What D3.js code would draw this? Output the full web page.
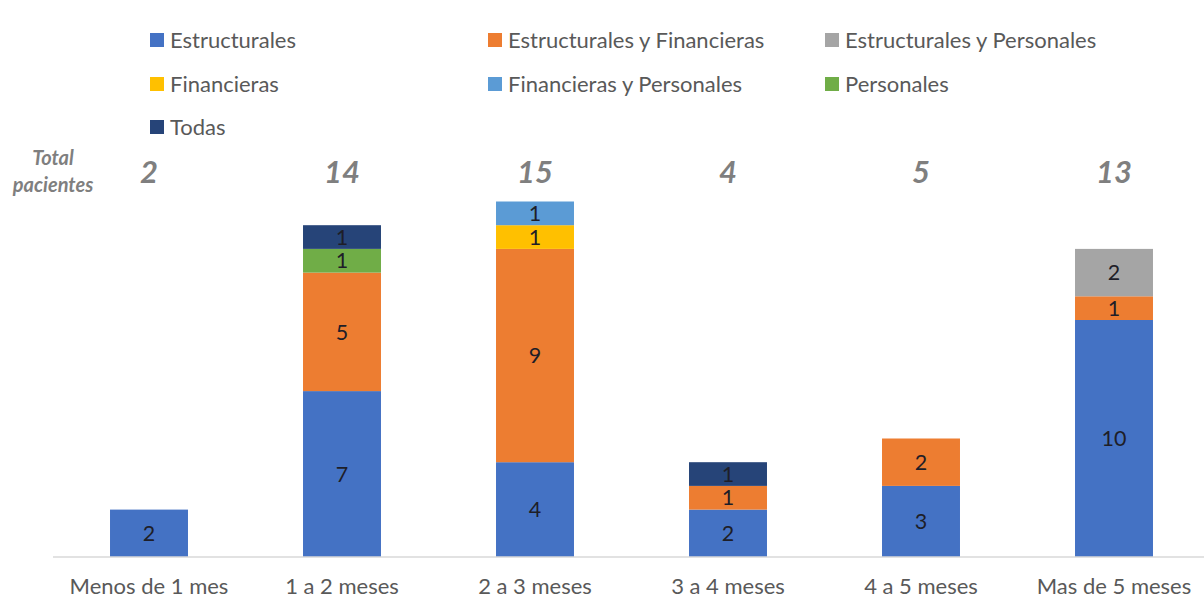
<!DOCTYPE html>
<html>
<head>
<meta charset="utf-8">
<script src="https://cdn.jsdelivr.net/npm/d3@7/dist/d3.min.js"></script>
<style>
  html, body { margin: 0; padding: 0; background: #fff; }
  svg { display: block; }
  text { font-family: Lato, "Open Sans", sans-serif; }
</style>
</head>
<body>
<svg id="chart" width="1204" height="606"></svg>
<script>
// Time-range categories along the x axis
const categories = ["Menos de 1 mes", "1 a 2 meses", "2 a 3 meses", "3 a 4 meses", "4 a 5 meses", "Mas de 5 meses"];

// Series names in stacking order (bottom to top)
const seriesNames = ["Estructurales", "Estructurales y Financieras", "Estructurales y Personales",
                     "Financieras", "Financieras y Personales", "Personales", "Todas"];
const seriesColors = ["#4472C4", "#ED7D31", "#A5A5A5", "#FFC000", "#5B9BD5", "#70AD47", "#264478"];

// Patient counts per series, one value per category
const estructurales              = [2, 7, 4, 2, 3, 10];
const estructuralesFinancieras   = [0, 5, 9, 1, 2, 1];
const estructuralesPersonales    = [0, 0, 0, 0, 0, 2];
const financieras                = [0, 0, 1, 0, 0, 0];
const financierasPersonales      = [0, 0, 1, 0, 0, 0];
const personales                 = [0, 1, 0, 0, 0, 0];
const todas                      = [0, 1, 0, 1, 0, 0];

const seriesValues = [estructurales, estructuralesFinancieras, estructuralesPersonales,
                      financieras, financierasPersonales, personales, todas];

// Row table for d3.stack
const rows = categories.map((c, i) => {
  const r = { category: c };
  seriesNames.forEach((s, k) => { r[s] = seriesValues[k][i]; });
  return r;
});
const totals = categories.map((c, i) => d3.sum(seriesValues, v => v[i]));

const svg = d3.select("#chart");

const x = d3.scaleBand()
  .domain(categories)
  .range([52.5, 1210.5])
  .paddingInner(0.596)
  .paddingOuter(0.298);

const y = d3.scaleLinear()
  .domain([0, 15])
  .range([557, 201.5]);

const stacked = d3.stack().keys(seriesNames)(rows);

// Bars
const layers = svg.append("g")
  .selectAll("g")
  .data(stacked)
  .join("g")
  .attr("fill", (d, i) => seriesColors[i]);

layers.selectAll("rect")
  .data(d => d.filter(p => p[1] - p[0] > 0))
  .join("rect")
  .attr("x", p => x(p.data.category))
  .attr("width", x.bandwidth())
  .attr("y", p => y(p[1]))
  .attr("height", p => y(p[0]) - y(p[1]));

// Segment value labels
layers.selectAll("text")
  .data(d => d.filter(p => p[1] - p[0] > 0))
  .join("text")
  .attr("x", p => x(p.data.category) + x.bandwidth() / 2)
  .attr("y", p => (y(p[0]) + y(p[1])) / 2)
  .attr("dy", "0.36em")
  .attr("text-anchor", "middle")
  .attr("fill", "#1e1e28")
  .attr("font-size", 21.5)
  .text(p => p[1] - p[0]);

// Category axis
const xAxis = svg.append("g")
  .attr("transform", "translate(0,557)")
  .call(d3.axisBottom(x).tickSize(0).tickPadding(21));
xAxis.select(".domain").attr("stroke", "#d9d9d9").attr("stroke-width", 1.5)
  .attr("d", "M53,0H1204");
xAxis.selectAll("text")
  .attr("fill", "#595959")
  .attr("font-size", 22)
  .attr("font-family", "Lato, 'Open Sans', sans-serif");

// Totals above each bar
svg.append("g")
  .selectAll("text")
  .data(categories)
  .join("text")
  .attr("x", c => x(c) + x.bandwidth() / 2)
  .attr("y", 172)
  .attr("dy", "0.36em")
  .attr("text-anchor", "middle")
  .attr("fill", "#7f7f7f")
  .attr("font-size", 31)
  .attr("font-weight", "bold")
  .attr("font-style", "italic")
  .text((c, i) => totals[i]);

const totLabel = svg.append("text")
  .attr("text-anchor", "middle")
  .attr("fill", "#7f7f7f")
  .attr("font-size", 20)
  .attr("font-weight", "bold")
  .attr("font-style", "italic");
totLabel.append("tspan").attr("x", 53).attr("y", 165).text("Total");
totLabel.append("tspan").attr("x", 53).attr("y", 192).text("pacientes");

// Legend: three columns, filled row by row
const legendCols = [150, 488, 825];
const legendRows = [40, 84, 127];
const legend = svg.append("g")
  .selectAll("g")
  .data(seriesNames)
  .join("g")
  .attr("transform", (d, i) => `translate(${legendCols[i % 3]},${legendRows[Math.floor(i / 3)]})`);
legend.append("rect")
  .attr("x", 0).attr("y", -7)
  .attr("width", 14).attr("height", 14)
  .attr("fill", (d, i) => seriesColors[i]);
legend.append("text")
  .attr("x", 20).attr("y", 0)
  .attr("dy", "0.36em")
  .attr("fill", "#595959")
  .attr("font-size", 22)
  .text(d => d);
</script>
</body>
</html>
